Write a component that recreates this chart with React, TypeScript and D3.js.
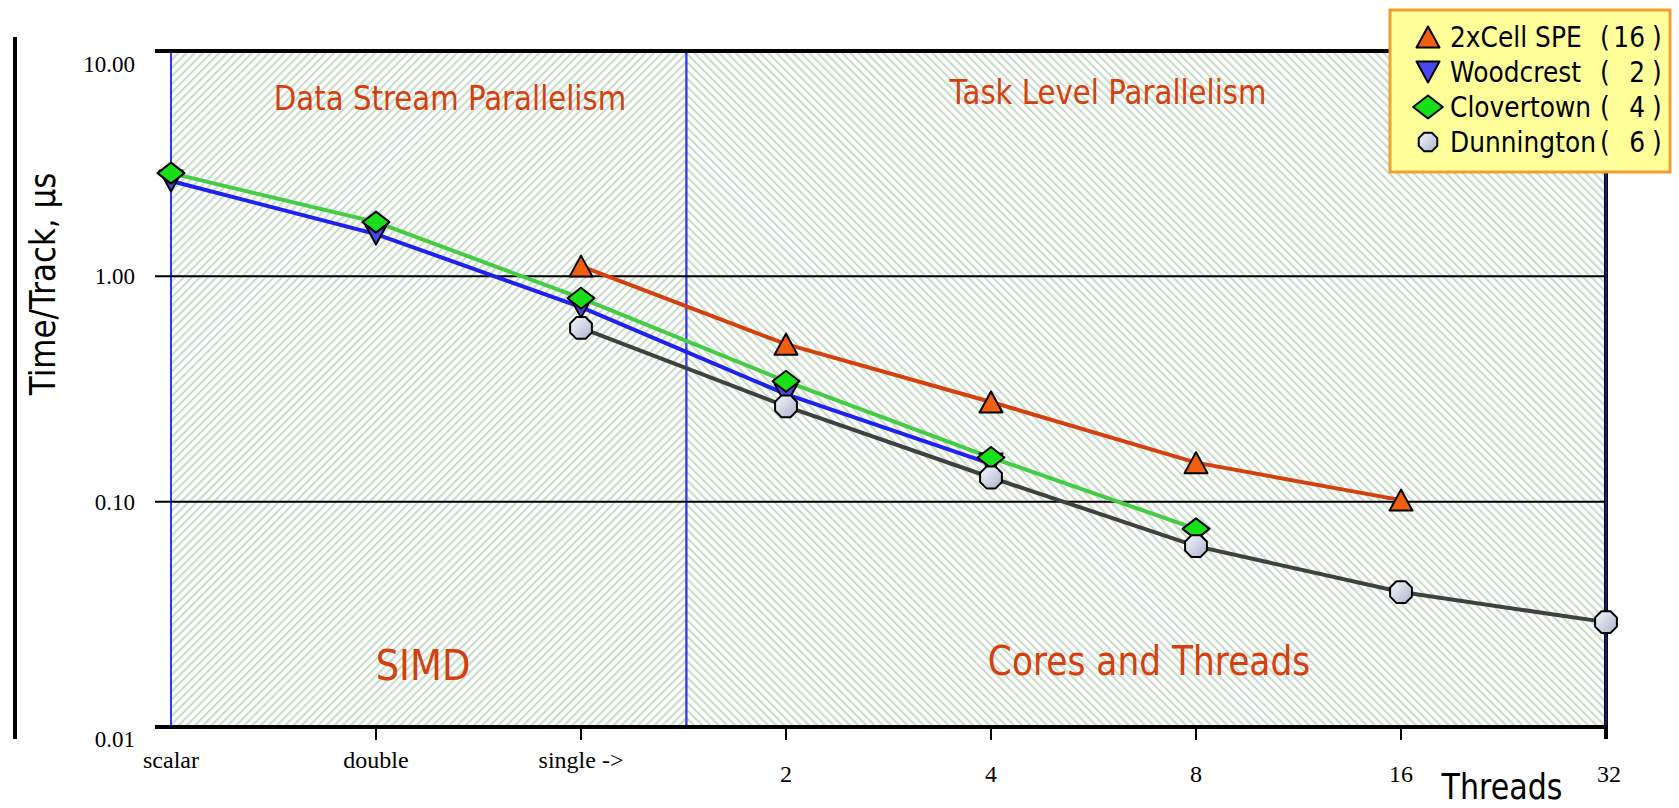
import React from "react";
import * as d3 from "d3";

const categories = ["scalar", "double", "single ->", "2", "4", "8", "16", "32"];
const cellSPE = [null, null, 1.11, 0.5, 0.277, 0.149, 0.1016, null];
const woodcrest = [2.65, 1.54, 0.73, 0.3, 0.147, null, null, null];
const clovertown = [2.87, 1.74, 0.8, 0.342, 0.157, 0.0757, null, null];
const dunnington = [null, null, 0.59, 0.265, 0.128, 0.0635, 0.0397, 0.0292];

const yTicks = [10, 1, 0.1, 0.01];
const legendNames = ["2xCell SPE", "Woodcrest", "Clovertown", "Dunnington"];
const legendCounts = ["16", "2", "4", "6"];

const W = 1679;
const H = 808;
const L = 171, R = 1606, T = 51, B = 727;
const RED = "#d4400e";
const BLUE = "#3030ff";

const x = d3.scalePoint<string>().domain(categories).range([L, R]);
const y = d3.scaleLog().domain([0.01, 10]).range([B, T]);

type Shape = "up" | "down" | "diamond" | "oct";

function markerPath(shape: Shape, s: number) {
  if (shape === "up") {
    const w = 11.5 * s, h = 10.5 * s;
    return `M0,${-h}L${w},${h}L${-w},${h}Z`;
  }
  if (shape === "down") {
    const w = 11.5 * s, h = 10.5 * s;
    return `M0,${h}L${w},${-h}L${-w},${-h}Z`;
  }
  if (shape === "diamond") {
    const w = 13.5 * s, h = 10.5 * s;
    return `M0,${-h}L${w},0L0,${h}L${-w},0Z`;
  }
  const r = 11.8 * s;
  const pts = d3.range(8).map((k) => {
    const a = ((22.5 + 45 * k) * Math.PI) / 180;
    return [r * Math.cos(a), r * Math.sin(a)];
  });
  return "M" + pts.map((p) => p.join(",")).join("L") + "Z";
}

const series = [
  { name: "Woodcrest", values: woodcrest, color: "#2020f0", fill: "#4848f0", shape: "down" as Shape },
  { name: "2xCell SPE", values: cellSPE, color: "#d4400e", fill: "#f06010", shape: "up" as Shape },
  { name: "Clovertown", values: clovertown, color: "#44cc44", fill: "#18e018", shape: "diamond" as Shape },
  { name: "Dunnington", values: dunnington, color: "#404040", fill: "url(#octGrad)", shape: "oct" as Shape },
];

const legendStyle: Record<string, { fill: string; shape: Shape }> = {};
series.forEach((s) => (legendStyle[s.name] = { fill: s.fill, shape: s.shape }));

function SText(props: {
  x: number; y: number; size: number; anchor?: string; fill?: string; rotate?: number; sx?: number; children: React.ReactNode;
}) {
  const { x: tx, y: ty, size, anchor = "start", fill = "#000", rotate = 0, sx = 0.86, children } = props;
  return (
    <text
      transform={`translate(${tx},${ty}) rotate(${rotate}) scale(${sx},1)`}
      fontFamily="DejaVu Sans, Verdana, sans-serif"
      fontSize={size}
      textAnchor={anchor}
      fill={fill}
    >
      {children}
    </text>
  );
}

export default function App() {
  const line = d3
    .line<[string, number | null]>()
    .defined((d) => d[1] != null)
    .x((d) => x(d[0]) as number)
    .y((d) => y(d[1] as number));

  const divX = ((x("single ->") as number) + (x("2") as number)) / 2 + 3;
  const P = 5.8;

  return (
    <svg
      width={W}
      height={H}
      style={{ position: "absolute", left: 0, top: 0, display: "block", background: "#fff" }}
    >
      <defs>
        <pattern id="hatchL" width={P} height={P} patternUnits="userSpaceOnUse" patternTransform="rotate(45)">
          <rect width={P} height={P} fill="#fff" />
          <line x1="1.2" y1="0" x2="1.2" y2={P} stroke="#c4d9c4" strokeWidth="2" />
        </pattern>
        <pattern id="hatchR" width={P} height={P} patternUnits="userSpaceOnUse" patternTransform="rotate(-45)">
          <rect width={P} height={P} fill="#fff" />
          <line x1="1.2" y1="0" x2="1.2" y2={P} stroke="#c4d9c4" strokeWidth="2" />
        </pattern>
        <linearGradient id="octGrad" x1="0" y1="0" x2="1" y2="1">
          <stop offset="0" stopColor="#f6f8fc" />
          <stop offset="1" stopColor="#aab4cc" />
        </linearGradient>
      </defs>

      {/* regions */}
      <rect x={L} y={T} width={divX - L} height={B - T} fill="url(#hatchL)" stroke={BLUE} strokeWidth={2} />
      <rect x={divX} y={T} width={R - divX} height={B - T} fill="url(#hatchR)" stroke={BLUE} strokeWidth={2} />

      {/* gridlines */}
      {yTicks.slice(1, 3).map((v) => (
        <line key={v} x1={155} x2={R} y1={y(v)} y2={y(v)} stroke="#000" strokeWidth={2} />
      ))}

      {/* frame */}
      <line x1={155} x2={R + 2} y1={T} y2={T} stroke="#000" strokeWidth={4} />
      <line x1={155} x2={R + 2} y1={B} y2={B} stroke="#000" strokeWidth={4} />
      <line x1={R} x2={R} y1={T} y2={B + 12} stroke="#000" strokeWidth={4} />
      <line x1={R} x2={R} y1={T + 2} y2={B - 2} stroke={BLUE} strokeWidth={1} />
      <line x1={15} x2={15} y1={37} y2={739} stroke="#000" strokeWidth={4} />

      {/* x ticks */}
      {categories.slice(1, 7).map((c) => (
        <line key={c} x1={x(c)} x2={x(c)} y1={B} y2={B + 13} stroke="#000" strokeWidth={2} />
      ))}

      {/* y tick labels */}
      {yTicks.map((v, i) => (
        <text
          key={v}
          x={135}
          y={y(v) + (i === 0 ? 13 : i === yTicks.length - 1 ? 12 : 0)}
          dy="0.35em"
          textAnchor="end"
          fontFamily="Liberation Serif, serif"
          fontSize={23}
        >
          {d3.format(".2f")(v)}
        </text>
      ))}

      {/* x tick labels */}
      {categories.map((c, i) => (
        <text
          key={c}
          x={(x(c) as number) + (i === 7 ? 3 : 0)}
          y={i < 3 ? 768 : 782}
          textAnchor="middle"
          fontFamily="Liberation Serif, serif"
          fontSize={24}
        >
          {c}
        </text>
      ))}

      {/* region labels */}
      <SText x={450} y={110} size={34} anchor="middle" fill={RED}>Data Stream Parallelism</SText>
      <SText x={1108} y={104} size={34} anchor="middle" fill={RED}>Task Level Parallelism</SText>
      <SText x={423} y={680} size={43} anchor="middle" fill={RED}>SIMD</SText>
      <SText x={1149} y={675} size={40} anchor="middle" fill={RED}>Cores and Threads</SText>

      {/* axis titles */}
      <SText x={1502} y={799} size={35} anchor="middle">Threads</SText>
      <SText x={55} y={284} size={36} anchor="middle" rotate={-90}>Time/Track, µs</SText>

      {/* lines */}
      {series.map((s) => (
        <path
          key={s.name}
          d={line(categories.map((c, i) => [c, s.values[i]] as [string, number | null])) || ""}
          fill="none"
          stroke={s.color}
          strokeWidth={4}
        />
      ))}

      {/* markers */}
      {series.map((s) =>
        categories.map((c, i) =>
          s.values[i] == null ? null : (
            <path
              key={s.name + c}
              transform={`translate(${x(c)},${y(s.values[i] as number)})`}
              d={markerPath(s.shape, 1)}
              fill={s.fill}
              stroke="#000"
              strokeWidth={2}
              strokeLinejoin="round"
            />
          )
        )
      )}

      {/* legend */}
      <rect x={1390} y={10} width={280} height={162} fill="#ffff99" stroke="#f0a030" strokeWidth={3} />
      {legendNames.map((n, i) => {
        const by = 47 + i * 35;
        const st = legendStyle[n];
        return (
          <g key={n}>
            <path
              transform={`translate(1428,${by - 10})`}
              d={markerPath(st.shape, n === "Dunnington" ? 0.85 : n === "Clovertown" ? 1.1 : 1.0)}
              fill={st.fill}
              stroke="#000"
              strokeWidth={2}
              strokeLinejoin="round"
            />
            <SText x={1450} y={by} size={29}>{n}</SText>
            <SText x={1600} y={by} size={29}>(</SText>
            <SText x={1645} y={by} size={29} anchor="end">{legendCounts[i]}</SText>
            <SText x={1652} y={by} size={29}>)</SText>
          </g>
        );
      })}
    </svg>
  );
}
